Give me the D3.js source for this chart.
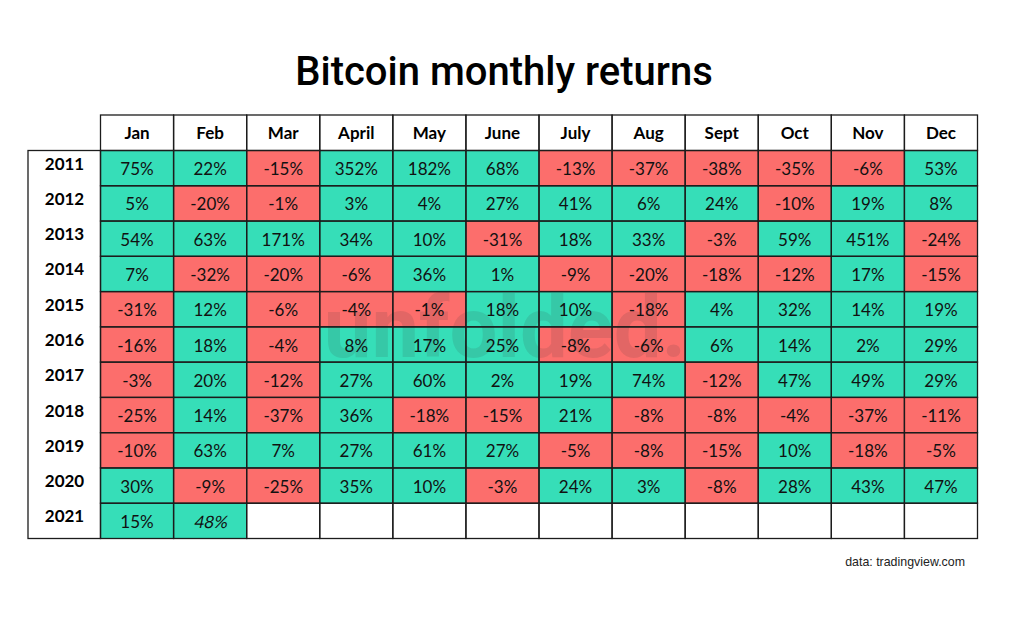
<!DOCTYPE html>
<html>
<head>
<meta charset="utf-8">
<script src="https://cdn.jsdelivr.net/npm/d3@7/dist/d3.min.js"></script>
<style>
  html, body { margin: 0; padding: 0; background: #fff; }
  svg { display: block; }
</style>
</head>
<body>
<div id="chart"></div>
<script>
const months = ["Jan", "Feb", "Mar", "April", "May", "June", "July", "Aug", "Sept", "Oct", "Nov", "Dec"];
const years = ["2011", "2012", "2013", "2014", "2015", "2016", "2017", "2018", "2019", "2020", "2021"];

const r2011 = [75, 22, -15, 352, 182, 68, -13, -37, -38, -35, -6, 53];
const r2012 = [5, -20, -1, 3, 4, 27, 41, 6, 24, -10, 19, 8];
const r2013 = [54, 63, 171, 34, 10, -31, 18, 33, -3, 59, 451, -24];
const r2014 = [7, -32, -20, -6, 36, 1, -9, -20, -18, -12, 17, -15];
const r2015 = [-31, 12, -6, -4, -1, 18, 10, -18, 4, 32, 14, 19];
const r2016 = [-16, 18, -4, 8, 17, 25, -8, -6, 6, 14, 2, 29];
const r2017 = [-3, 20, -12, 27, 60, 2, 19, 74, -12, 47, 49, 29];
const r2018 = [-25, 14, -37, 36, -18, -15, 21, -8, -8, -4, -37, -11];
const r2019 = [-10, 63, 7, 27, 61, 27, -5, -8, -15, 10, -18, -5];
const r2020 = [30, -9, -25, 35, 10, -3, 24, 3, -8, 28, 43, 47];
const r2021 = [15, 48];
const returns = [r2011, r2012, r2013, r2014, r2015, r2016, r2017, r2018, r2019, r2020, r2021];

const UP = "#36deb8", DOWN = "#fc6e6c", LINE = "#1c1c1c";
const FONT = "Lato, sans-serif";

const svg = d3.select("#chart").append("svg")
  .attr("width", 1024)
  .attr("height", 623);

const x = d3.scaleBand().domain(months).range([100.5, 977.5]);
const y = d3.scaleBand().domain(years).range([150.5, 538.5]);
const headTop = 115, yearLeft = 28;

svg.append("text")
  .attr("x", 504).attr("y", 85)
  .attr("text-anchor", "middle")
  .attr("font-family", "Roboto, sans-serif")
  .attr("font-weight", 500)
  .attr("font-size", 40)
  .attr("fill", "#000")
  .text("Bitcoin monthly returns");

// cells, one per month and year, empty where the year is not finished
const cells = years.flatMap((yr, i) => months.map((m, j) => ({ yr, m, v: returns[i][j] })));

const cell = svg.append("g").selectAll("g")
  .data(cells)
  .join("g")
  .attr("transform", d => `translate(${x(d.m)},${y(d.yr)})`);

cell.append("rect")
  .attr("width", x.bandwidth())
  .attr("height", y.bandwidth())
  .attr("fill", d => d.v === undefined ? "#fff" : d.v < 0 ? DOWN : UP);

// faint watermark sits over the fills but under the numbers
svg.append("text")
  .attr("x", 505).attr("y", 357)
  .attr("text-anchor", "middle")
  .attr("font-family", "Roboto, sans-serif")
  .attr("font-weight", 700)
  .attr("font-size", 85)
  .attr("fill", "#333")
  .attr("fill-opacity", 0.13)
  .text("unfolded.");

const grid = svg.append("g")
  .attr("stroke", LINE)
  .attr("stroke-width", 1.3)
  .attr("fill", "none");

grid.selectAll("rect.head")
  .data(months)
  .join("rect")
  .attr("class", "head")
  .attr("x", d => x(d))
  .attr("y", headTop)
  .attr("width", x.bandwidth())
  .attr("height", y.range()[0] - headTop);

grid.selectAll("rect.body")
  .data(cells)
  .join("rect")
  .attr("class", "body")
  .attr("x", d => x(d.m))
  .attr("y", d => y(d.yr))
  .attr("width", x.bandwidth())
  .attr("height", y.bandwidth());

grid.append("rect")
  .attr("x", yearLeft)
  .attr("y", y.range()[0])
  .attr("width", x.range()[0] - yearLeft)
  .attr("height", y.range()[1] - y.range()[0]);

const isItalic = d => d.yr === "2021" && d.m === "Feb";

svg.append("g").selectAll("text")
  .data(cells.filter(d => d.v !== undefined))
  .join("text")
  .attr("transform", d => {
    const tx = x(d.m) + x.bandwidth() / 2;
    const ty = y(d.yr) + y.bandwidth() / 2 + 7;
    // the one italic number: Lato has no italic face here, so slant it
    return `translate(${tx},${ty})` + (isItalic(d) ? " skewX(-12)" : "");
  })
  .attr("text-anchor", "middle")
  .attr("font-family", FONT)
  .attr("font-size", 17)
  .attr("fill", "#111")
  .text(d => `${d.v}%`);

svg.append("g").selectAll("text")
  .data(months)
  .join("text")
  .attr("x", d => x(d) + x.bandwidth() / 2)
  .attr("y", 139)
  .attr("text-anchor", "middle")
  .attr("font-family", FONT)
  .attr("font-weight", 700)
  .attr("font-size", 17)
  .attr("fill", "#000")
  .text(d => d);

svg.append("g").selectAll("text")
  .data(years)
  .join("text")
  .attr("x", 64.5)
  .attr("y", d => y(d) + y.bandwidth() / 2 + 1.5)
  .attr("text-anchor", "middle")
  .attr("font-family", FONT)
  .attr("font-weight", 700)
  .attr("font-size", 17)
  .attr("fill", "#000")
  .text(d => d);

svg.append("text")
  .attr("x", 965).attr("y", 566)
  .attr("text-anchor", "end")
  .attr("font-family", "Liberation Sans, sans-serif")
  .attr("font-size", 12.4)
  .attr("fill", "#222")
  .text("data: tradingview.com");
</script>
</body>
</html>
